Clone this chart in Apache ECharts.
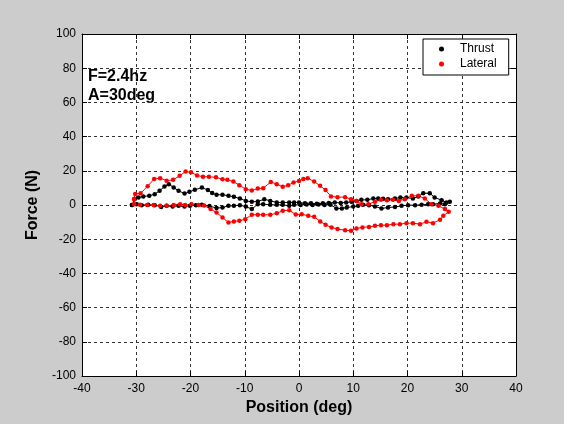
<!DOCTYPE html>
<html>
<head>
<meta charset="utf-8">
<script src="https://cdn.jsdelivr.net/npm/echarts@6/dist/echarts.min.js"></script>
<style>
  html, body { margin: 0; padding: 0; background: #cccccc; }
  #chart { width: 564px; height: 424px; }
</style>
</head>
<body>
<div id="chart"></div>
<script>
// Thrust loop: forward sweep then return sweep (position in deg, force in N)
const thrustPos = [
  -30.8, -30.3, -29.6, -28.7, -27.6, -26.6, -25.7, -24.8, -24.0, -23.1, -22.2, -21.1, -20.2, -19.2, -17.9, -16.8, -16.0,
  -15.2, -14.1, -13.0, -12.0, -10.9, -9.8, -8.7, -7.6, -6.4, -5.3, -4.1, -3.0, -1.8, -0.9, 0.0,
  1.1, 2.2, 3.3, 4.4, 5.5, 6.6, 7.7, 8.7, 9.7, 10.6, 11.5, 12.6, 13.7, 14.6, 15.5, 16.4, 17.7, 18.7, 19.8,
  21.0, 22.0, 22.9, 24.1, 25.0, 26.3, 27.2, 27.8,
  26.9, 26.0, 24.7, 23.8, 22.6, 21.4, 20.1, 18.9, 17.7, 16.4, 15.2, 14.0, 12.9, 11.8, 10.9, 10.0, 8.8, 7.9, 6.9,
  5.8, 4.7, 3.6, 2.5, 1.4, 0.3, -0.9, -1.8, -3.0, -4.1, -5.3, -6.6, -7.6, -8.7, -9.8, -10.9, -12.0, -13.0,
  -14.1, -15.2, -16.5, -17.9, -19.0, -20.1, -21.1, -22.2, -23.3, -24.4, -25.4, -26.6, -27.8, -29.0, -29.9, -30.8
];
const thrustForce = [
  0.0, 3.4, 4.4, 5.0, 5.4, 6.3, 8.3, 10.8, 12.2, 10.2, 8.3, 6.7, 7.7, 8.9, 10.2, 8.7, 7.0,
  6.0, 6.0, 5.4, 4.8, 3.8, 2.4, 1.9, 2.0, 3.4, 2.4, 1.5, 1.5, 1.5, 1.5, 1.5,
  1.0, 1.0, 0.8, 1.0, 1.2, 1.5, 1.2, 1.5, 1.9, 2.4, 3.0, 3.0, 3.8, 3.8, 3.6, 3.4, 3.8, 4.4, 4.4,
  3.8, 5.0, 6.9, 6.9, 4.4, 2.8, 1.5, 1.9,
  0.5, 0.9, 0.5, 0.5, 0.1, -0.1, -0.1, -0.5, -1.1, -1.5, -2.0, -0.9, -0.1, 0.1, -0.5, -0.9, -1.5, -2.0, -2.0,
  0.2, 0.0, 0.3, 0.0, 0.3, 0.0, 0.1, -0.5, 0.1, 0.1, 0.1, 0.5, 0.5, -2.4, -0.9, -0.1, -0.5, -0.5,
  -1.5, -1.8, -0.6, 0.1, -0.1, -0.5, -0.9, -0.5, -0.9, -0.5, -1.1, -0.1, 0.1, -0.1, 0.5, 0.0
];

// Lateral loop: forward sweep then return sweep
const lateralPos = [
  -30.4, -30.2, -29.2, -27.9, -26.7, -25.6, -24.4, -23.2, -22.0, -20.9, -19.9, -18.8, -17.7, -16.6, -15.3,
  -14.1, -13.2, -12.1, -11.0, -9.8, -8.7, -7.6, -6.6, -5.2, -4.1, -3.0, -2.0, -1.0, 0.0, 0.8, 1.6,
  2.8, 3.9, 4.9, 5.9, 7.1, 8.5, 9.6, 10.6, 11.5, 12.8, 14.0, 15.1, 16.2, 17.3, 18.4, 19.5, 20.8, 22.0,
  23.2, 24.4, 25.7, 26.9, 27.6,
  26.6, 26.0, 24.7, 23.5, 22.3, 21.0, 19.8, 18.6, 17.4, 16.2, 15.1, 14.0, 12.9, 11.7, 10.6, 9.6, 8.5,
  7.1, 6.0, 4.9, 3.9, 2.8, 1.7, 0.5, -0.6, -1.8, -3.0, -4.1, -5.3, -6.6, -7.6, -8.7, -9.9, -11.0,
  -12.0, -13.0, -14.1, -15.2, -16.3, -17.5, -18.5, -19.8, -21.0, -21.9, -23.1, -24.4, -25.6, -26.8,
  -28.0, -29.3, -30.4, -30.4
];
const lateralForce = [
  3.5, 6.5, 6.8, 11.0, 15.2, 15.7, 14.2, 14.7, 17.1, 19.6, 19.1, 17.3, 16.5, 16.5, 16.2,
  15.0, 14.7, 13.7, 11.6, 9.2, 8.5, 9.6, 9.8, 13.5, 12.2, 10.6, 11.6, 13.1, 14.1, 15.2, 15.7,
  13.7, 11.2, 8.7, 5.0, 4.6, 4.6, 3.4, 2.4, 0.5, 0.5, 1.9, 3.0, 2.8, 3.0, 2.4, 3.4, 5.4, 5.4,
  3.8, 0.5, -0.5, -2.4, -4.0,
  -6.3, -8.6, -10.6, -9.8, -11.2, -10.6, -10.6, -11.2, -11.2, -11.8, -11.8, -12.2, -12.8, -13.1, -13.7, -15.1, -14.7,
  -14.1, -13.1, -11.6, -9.6, -6.9, -6.3, -5.4, -5.6, -3.0, -3.4, -4.8, -5.7, -5.7, -5.7, -5.7, -8.3, -9.2,
  -9.6, -10.2, -7.3, -4.4, -2.4, -0.3, 0.0, 0.5, 0.0, 0.5, 0.0, -0.5, -0.5, 0.0,
  0.0, 0.1, 0.5, 3.5
];

const xTicks = { min: -40, max: 40, step: 10 };
const yTicks = { min: -100, max: 100, step: 20 };
const seriesNames = ['Thrust', 'Lateral'];
const annotations = ['F=2.4hz', 'A=30deg'];

const zip = (xs, ys) => xs.map((x, i) => [x, ys[i]]);

const chart = echarts.init(document.getElementById('chart'), null, { renderer: 'canvas' });

const tickFont = { color: '#000', fontFamily: 'Liberation Sans, Arial, sans-serif', fontSize: 12 };
const gridLine = { show: true, lineStyle: { color: '#333', type: [3, 3], width: 1 } };
const frame = { show: true, onZero: false, lineStyle: { color: '#000', width: 1 } };
const inTick = { show: true, inside: true, length: 5, lineStyle: { color: '#000' } };

chart.setOption({
  backgroundColor: '#cccccc',
  animation: false,
  grid: { left: 82, right: 48, top: 34, bottom: 48, show: true, backgroundColor: '#ffffff', borderWidth: 0 },
  xAxis: [{
    type: 'value', min: xTicks.min, max: xTicks.max, interval: xTicks.step,
    axisLine: frame, axisTick: inTick, splitLine: gridLine,
    axisLabel: Object.assign({ margin: 7 }, tickFont),
    name: 'Position (deg)', nameLocation: 'middle', nameGap: 24,
    nameTextStyle: { color: '#000', fontFamily: 'Liberation Sans, Arial, sans-serif', fontSize: 16, fontWeight: 'bold' }
  }, {
    type: 'value', position: 'top', min: xTicks.min, max: xTicks.max, interval: xTicks.step,
    axisLine: frame, axisTick: inTick, splitLine: { show: false }, axisLabel: { show: false }
  }],
  yAxis: [{
    type: 'value', min: yTicks.min, max: yTicks.max, interval: yTicks.step,
    axisLine: frame, axisTick: inTick, splitLine: gridLine,
    axisLabel: Object.assign({ margin: 6 }, tickFont),
    name: 'Force (N)', nameLocation: 'middle', nameGap: 20,
    nameTextStyle: { color: '#000', fontFamily: 'Liberation Sans, Arial, sans-serif', fontSize: 16, fontWeight: 'bold' }
  }, {
    type: 'value', position: 'right', min: yTicks.min, max: yTicks.max, interval: yTicks.step,
    axisLine: frame, axisTick: inTick, splitLine: { show: false }, axisLabel: { show: false }
  }],
  legend: {
    orient: 'vertical', left: 423, top: 39,
    data: seriesNames,
    backgroundColor: '#ffffff', borderColor: '#000', borderWidth: 1, borderRadius: 0,
    padding: [3, 12, 4, 16],
    icon: 'circle', itemWidth: 5, itemHeight: 5, itemGap: 1,
    textStyle: { color: '#000', fontFamily: 'Liberation Sans, Arial, sans-serif', fontSize: 12, lineHeight: 14, padding: [0, 0, 0, 11] }
  },
  graphic: [
    { type: 'text', left: 88, top: 69, style: { text: annotations[0], fill: '#000', font: 'bold 16px "Liberation Sans", Arial, sans-serif' } },
    { type: 'text', left: 88, top: 88, style: { text: annotations[1], fill: '#000', font: 'bold 16px "Liberation Sans", Arial, sans-serif' } }
  ],
  series: [{
    name: seriesNames[0], type: 'line', data: zip(thrustPos, thrustForce),
    symbol: 'circle', symbolSize: 4.5, showAllSymbol: true,
    itemStyle: { color: '#000000' }, lineStyle: { color: '#000000', width: 1 }
  }, {
    name: seriesNames[1], type: 'line', data: zip(lateralPos, lateralForce),
    symbol: 'circle', symbolSize: 4.5, showAllSymbol: true,
    itemStyle: { color: '#ff0000' }, lineStyle: { color: '#ff0000', width: 1 }
  }]
});
</script>
</body>
</html>
